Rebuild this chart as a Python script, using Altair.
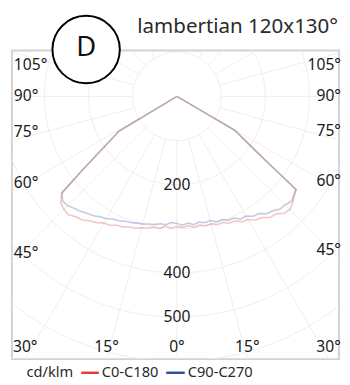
import math
import altair as alt
import pandas as pd

# ---------------- data ----------------
SERIES = ["C0-C180", "C90-C270"]
SERIES_COLORS = ["#e03a3a", "#2f4f9f"]

GRID_RADII = [100, 200, 300, 400, 500, 600, 700, 800]
SPOKE_ANGLES = list(range(0, 360, 15))
RADIAL_LABELS = [200, 400, 500]
SIDE_LABEL_ANGLES = [105, 90, 75, 60, 45]
BOTTOM_LABEL_ANGLES = [30, 15, 0]

# C0-C180 (red): left half = C180, right half = C0   (angle from nadir, cd/klm)
C180_ANG = [0, 2.5, 5, 7.5, 10, 12.5, 15, 17.5, 20, 22.5, 25, 27.5, 30, 32.5, 35, 37.5, 40, 42.5, 45, 47.5, 50,
            52, 54, 56, 58, 59, 60.5, 90]
C180_VAL = [295, 299, 295, 302, 301, 306, 308, 313, 315, 320, 322, 329, 331, 339, 344, 353, 356, 364, 362, 357, 341,
            276, 226, 191, 165, 157, 0, 0]
C0_ANG = [0, 2.5, 5, 7.5, 10, 12.5, 15, 17.5, 20, 22.5, 25, 27.5, 30, 32.5, 35, 37.5, 40, 42.5, 45, 47.5, 50, 52,
          54, 55, 57, 58.5, 59.6, 61, 90]
C0_VAL = [294, 297, 294, 299, 296, 300, 299, 305, 304, 311, 311, 320, 322, 332, 335, 346, 348, 359, 362, 356, 348, 343,
          254, 227, 188, 166, 154, 0, 0]
# C90-C270 (blue): left half = C270, right half = C90
C270_ANG = [0, 2.5, 5, 7.5, 10, 12.5, 15, 17.5, 20, 22.5, 25, 27.5, 30, 32.5, 35, 37.5, 40, 42.5, 45, 47.5, 50,
            52, 54, 56, 58, 59, 60, 90]
C270_VAL = [288, 286, 292, 291, 295, 296, 299, 301, 304, 306, 311, 313, 320, 323, 330, 334, 340, 344, 350, 351, 340,
            272, 221, 186, 161, 154, 0, 0]
C90_ANG = [0, 2.5, 5, 7.5, 10, 12.5, 15, 17.5, 20, 22.5, 25, 27.5, 30, 32.5, 35, 37.5, 40, 42.5, 45, 47.5, 50, 52,
           54, 55, 57, 58.5, 59.6, 61, 90]
C90_VAL = [289, 292, 288, 293, 289, 293, 291, 298, 297, 304, 304, 313, 313, 322, 324, 335, 338, 346, 347, 352, 346, 342,
           250, 223, 184, 163, 150, 0, 0]

TITLE = "lambertian 120x130°"
BADGE = "D"
UNIT = "cd/klm"

# ---------------- layout ----------------
K = 0.452          # px per cd/klm
W, H = 335, 316    # frame (view) size
CX, CY = 169, 47   # pole position inside the view (px)
FONT = "Noto Sans"
LFS = 16           # label font size

def to_data(vx, vy):
    return (vx - CX) / K, (CY - vy) / K

xs = alt.Scale(domain=[(0 - CX) / K, (W - CX) / K], range=[0, W], nice=False, zero=False)
ys = alt.Scale(domain=[(CY - H) / K, CY / K], range=[H, 0], nice=False, zero=False)
X = lambda f: alt.X(f, type="quantitative", scale=xs, axis=None)
Y = lambda f: alt.Y(f, type="quantitative", scale=ys, axis=None)

# grid circles and spokes
rows = []
for r in GRID_RADII:
    for i in range(0, 361, 2):
        t = math.radians(i)
        rows.append({"gid": f"c{r}", "k": i, "x": r * math.sin(t), "y": -r * math.cos(t)})
for a in SPOKE_ANGLES:
    t = math.radians(a)
    for j, r in enumerate([GRID_RADII[0], GRID_RADII[-1]]):
        rows.append({"gid": f"s{a}", "k": j, "x": r * math.sin(t), "y": -r * math.cos(t)})
grid_df = pd.DataFrame(rows)

grid = alt.Chart(grid_df).mark_line(color="#eeeeee", strokeWidth=1, clip=True).encode(
    x=X("x"), y=Y("y"), detail="gid:N", order="k:Q")

# curves
crow = []
def add(series, lang, lval, rang, rval):
    for a, v in zip(lang, lval):
        s = -a
        crow.append({"series": series, "s": s, "x": v * math.sin(math.radians(s)), "y": -v * math.cos(math.radians(s))})
    for a, v in zip(rang, rval):
        if a == 0:
            continue
        crow.append({"series": series, "s": a, "x": v * math.sin(math.radians(a)), "y": -v * math.cos(math.radians(a))})
add(SERIES[0], C180_ANG, C180_VAL, C0_ANG, C0_VAL)
add(SERIES[1], C270_ANG, C270_VAL, C90_ANG, C90_VAL)
curve_df = pd.DataFrame(crow)

curves = alt.Chart(curve_df).mark_line(strokeWidth=1.6, opacity=0.3, clip=True).encode(
    x=X("x"), y=Y("y"),
    color=alt.Color("series:N", scale=alt.Scale(domain=SERIES, range=SERIES_COLORS), legend=None),
    detail="series:N", order="s:Q")

# radial value labels
rl_df = pd.DataFrame({"v": RADIAL_LABELS, "x": [0.0] * len(RADIAL_LABELS), "y": [-v for v in RADIAL_LABELS],
                      "t": [str(v) for v in RADIAL_LABELS]})
rlabels = alt.Chart(rl_df).mark_text(font=FONT, fontSize=LFS, color="#1a1a1a", baseline="middle").encode(
    x=X("x"), y=Y("y"), text="t:N")

# angle labels
lab = []
for a in SIDE_LABEL_ANGLES:
    t = math.radians(a)
    for side, dist, vx, al in [(-1, CX, 2, "left"), (1, W - CX, W + 2, "right")]:
        vy = CY + dist * math.cos(t) / math.sin(t)
        if a < 90:
            vy -= 9
        vy = max(vy, 15)
        dx, dy = to_data(vx, vy)
        lab.append({"x": dx, "y": dy, "t": f"{a}°", "al": al})
for a in BOTTOM_LABEL_ANGLES:
    t = math.radians(a)
    sides = [1] if a == 0 else [-1, 1]
    for sd in sides:
        vx = CX + sd * (H - CY) * math.tan(t)
        vx = max(vx, 12)
        vy = H - 12
        dx, dy = to_data(vx, vy)
        lab.append({"x": dx, "y": dy, "t": f"{a}°", "al": "center"})
lab_df = pd.DataFrame(lab)
alabels = []
for al in ["left", "right", "center"]:
    alabels.append(alt.Chart(lab_df[lab_df.al == al]).mark_text(
        font=FONT, fontSize=LFS, color="#1a1a1a", baseline="middle", align=al).encode(
        x=X("x"), y=Y("y"), text="t:N"))

# title, badge, legend
one = pd.DataFrame({"a": [0]})
title = alt.Chart(one).mark_text(text=TITLE, font=FONT, fontSize=21, color="#2a2a2a", align="right",
                                 baseline="middle").encode(x=alt.value(W - 1), y=alt.value(-24))
badge = alt.Chart(one).mark_point(shape="circle", size=4761, filled=False, fill="white", fillOpacity=1,
                                  stroke="black", strokeWidth=2, opacity=1).encode(
    x=alt.value(76), y=alt.value(-1))
badge_t = alt.Chart(one).mark_text(text=BADGE, font=FONT, fontSize=28, color="#111", align="center",
                                   baseline="middle").encode(x=alt.value(76), y=alt.value(-2))

LY = 329
LF = 15
leg = [
    alt.Chart(one).mark_text(text=UNIT, font=FONT, fontSize=LF, color="#2a2a2a", align="left",
                             baseline="middle").encode(x=alt.value(15), y=alt.value(LY)),
    alt.Chart(one).mark_rule(color=SERIES_COLORS[0], strokeWidth=2.5).encode(
        x=alt.value(71), x2=alt.value(89), y=alt.value(LY + 1)),
    alt.Chart(one).mark_text(text=SERIES[0], font=FONT, fontSize=LF, color="#2a2a2a", align="left",
                             baseline="middle").encode(x=alt.value(92), y=alt.value(LY)),
    alt.Chart(one).mark_rule(color=SERIES_COLORS[1], strokeWidth=2.5).encode(
        x=alt.value(158), x2=alt.value(177), y=alt.value(LY + 1)),
    alt.Chart(one).mark_text(text=SERIES[1], font=FONT, fontSize=LF, color="#2a2a2a", align="left",
                             baseline="middle").encode(x=alt.value(180), y=alt.value(LY)),
]

chart = alt.layer(grid, curves, rlabels, *alabels, title, badge, badge_t, *leg).properties(
    width=W, height=H, autosize="none",
    padding={"left": 4, "top": 39, "right": 3, "bottom": 22},
).configure_view(stroke="#d2d2d2", strokeWidth=2)

chart.save("out.html", embed_options={"renderer": "svg", "actions": False})
